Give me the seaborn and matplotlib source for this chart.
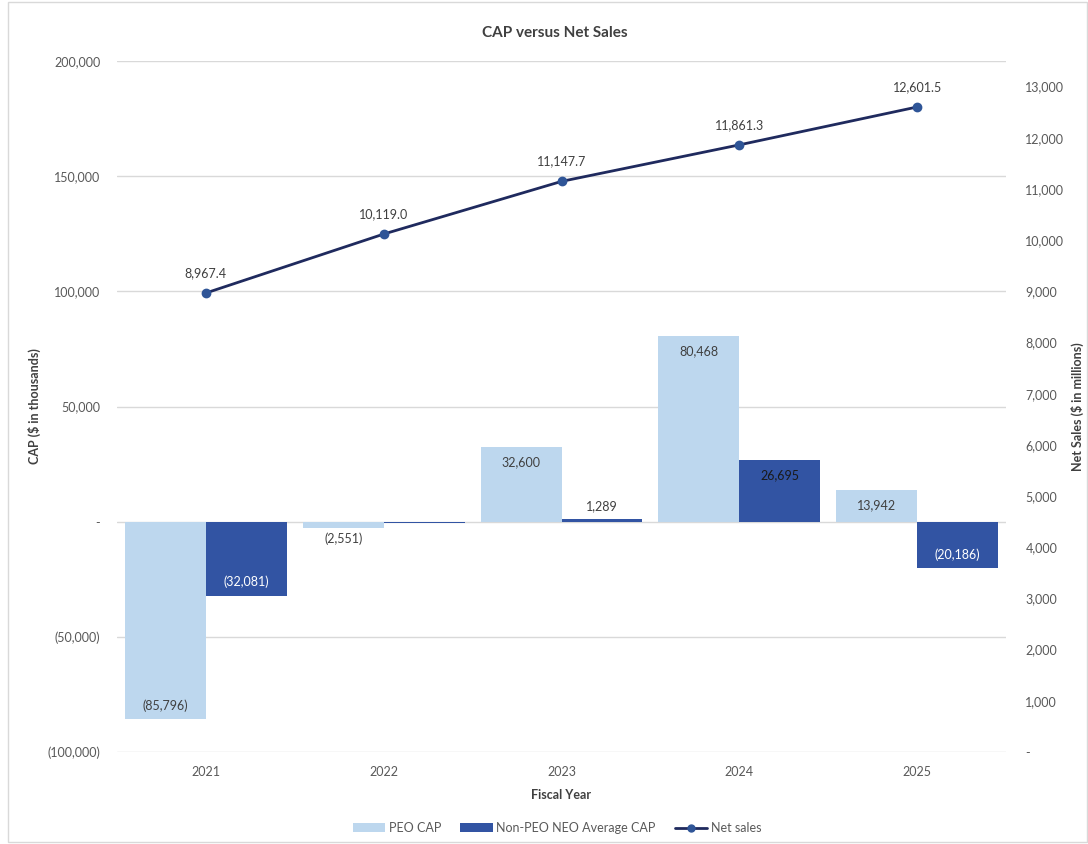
import matplotlib
matplotlib.use("Agg")
import matplotlib.pyplot as plt
from matplotlib.ticker import FuncFormatter, MultipleLocator
from matplotlib.lines import Line2D
from matplotlib.patches import Patch, Rectangle
import seaborn as sns
import pandas as pd

years = ["2021", "2022", "2023", "2024", "2025"]
peo_cap = [-85796, -2551, 32600, 80468, 13942]
non_peo_cap = [-32081, -700, 1289, 26695, -20186]
net_sales = [8967.4, 10119.0, 11147.7, 11861.3, 12601.5]
series_names = ["PEO CAP", "Non-PEO NEO Average CAP"]
show_label = [[True, True, True, True, True], [True, False, True, True, True]]

light_blue = "#BDD7EE"
dark_blue = "#3254A3"
navy = "#1F2A5E"
marker_blue = "#2F5597"
text_grey = "#595959"
label_grey = "#404040"

sns.set_theme(style="white")
plt.rcParams["font.family"] = ["Lato", "DejaVu Sans"]

bars = pd.DataFrame({
    "year": years * 2,
    "cap": peo_cap + non_peo_cap,
    "series": [series_names[0]] * len(years) + [series_names[1]] * len(years),
})

fig = plt.figure(figsize=(10.88, 8.44), dpi=100)
ax_w = (1006 - 117) / 1088
ax = fig.add_axes([117 / 1088, 1 - 752 / 844, ax_w, (752 - 61) / 844])

sns.barplot(data=bars, x="year", y="cap", hue="series", order=years,
            hue_order=series_names, palette=[light_blue, dark_blue],
            width=0.91, gap=0, saturation=1, errorbar=None, legend=False, ax=ax)
for p in ax.patches:
    p.set_edgecolor("none")

ax.set_ylim(-100000, 200000)
ax.set_xlim(-0.5, 4.5)
ax.yaxis.set_major_locator(MultipleLocator(50000))


def acct(v, _=None, dec=0):
    if abs(v) < 1e-9:
        return "-"
    s = f"{abs(v):,.{dec}f}"
    return f"({s})" if v < 0 else s


ax.yaxis.set_major_formatter(FuncFormatter(acct))
ax.grid(axis="y", color="#D9D9D9", linewidth=1)
ax.set_axisbelow(True)
for s in ax.spines.values():
    s.set_visible(False)
ax.tick_params(axis="both", length=0, labelsize=9, labelcolor=text_grey, pad=12)
ax.tick_params(axis="x", pad=10)
ax.set_xlabel("Fiscal Year", fontsize=9, fontweight="bold", color=label_grey, labelpad=8)
ax.set_ylabel("CAP ($ in thousands)", fontsize=9, fontweight="bold", color=label_grey,
              va="center", ha="center")
ax.yaxis.set_label_coords((34 - 117) / 1088 / ax_w, 0.5)

# bar value labels
half = 0.91 / 2
for si, vals in enumerate([peo_cap, non_peo_cap]):
    for i, v in enumerate(vals):
        if not show_label[si][i]:
            continue
        x = i - half / 2 if si == 0 else i + half / 2
        inside = abs(v) > 8000
        if si == 1 and v < 0:
            color = "white"
        elif si == 1 and v > 0 and inside:
            color = "#1A1A1A"
        else:
            color = label_grey
        if inside:
            off = -11 if v > 0 else 10
        else:
            off = 9 if v > 0 else -8
        ax.annotate(acct(v), (x, v), xytext=(0, off), textcoords="offset points",
                    ha="center", va="center", fontsize=9, color=color)

# net sales on the secondary axis
ax2 = ax.twinx()
sns.pointplot(x=list(range(len(years))), y=net_sales, native_scale=True,
              color=navy, markers="o", linestyles="-", ax=ax2, errorbar=None)
for ln in ax2.lines:
    ln.set_linewidth(2)
    ln.set_markersize(5)
    ln.set_markerfacecolor(marker_blue)
    ln.set_markeredgecolor(marker_blue)
for c in ax2.collections:
    c.set_facecolor(marker_blue)
    c.set_edgecolor(marker_blue)
    c.set_sizes([30])
ax2.set_xlim(-0.5, 4.5)
ax2.set_ylim(0, 13500)
ax2.set_yticks(range(0, 13001, 1000))
ax2.yaxis.set_major_formatter(FuncFormatter(acct))
for s in ax2.spines.values():
    s.set_visible(False)
ax2.tick_params(axis="y", length=0, labelsize=9, labelcolor=text_grey, pad=14)
ax2.set_ylabel("Net Sales ($ in millions)", fontsize=9, fontweight="bold",
               color=label_grey, rotation=90, va="center", ha="center")
ax2.yaxis.set_label_coords((1077 - 117) / 1088 / ax_w, 0.5)
ax2.grid(False)
for i, v in enumerate(net_sales):
    ax2.annotate(f"{v:,.1f}", (i, v), xytext=(0, 10), textcoords="offset points",
                 ha="center", va="bottom", fontsize=9, color=label_grey)

fig.text(555 / 1088, 1 - 33 / 844, "CAP versus Net Sales", ha="center", va="center",
         fontsize=11, fontweight="bold", color=label_grey)

handles = [
    Patch(facecolor=light_blue, edgecolor="none", label=series_names[0]),
    Patch(facecolor=dark_blue, edgecolor="none", label=series_names[1]),
    Line2D([0], [0], color=navy, linewidth=2, marker="o", markersize=5,
           markerfacecolor=marker_blue, markeredgecolor=marker_blue, label="Net sales"),
]
fig.legend(handles=handles, loc="center", bbox_to_anchor=(557 / 1088, 1 - 828 / 844),
           ncol=3, frameon=False, fontsize=9, labelcolor=text_grey,
           handlelength=2.6, handleheight=0.7, columnspacing=1.5, handletextpad=0.3)

fig.patches.append(Rectangle((8 / 1088, 0.002), 1 - 9 / 1088, 0.996,
                             transform=fig.transFigure, fill=False,
                             edgecolor="#D9D9D9", linewidth=1))

fig.savefig("out.png", dpi=100)
